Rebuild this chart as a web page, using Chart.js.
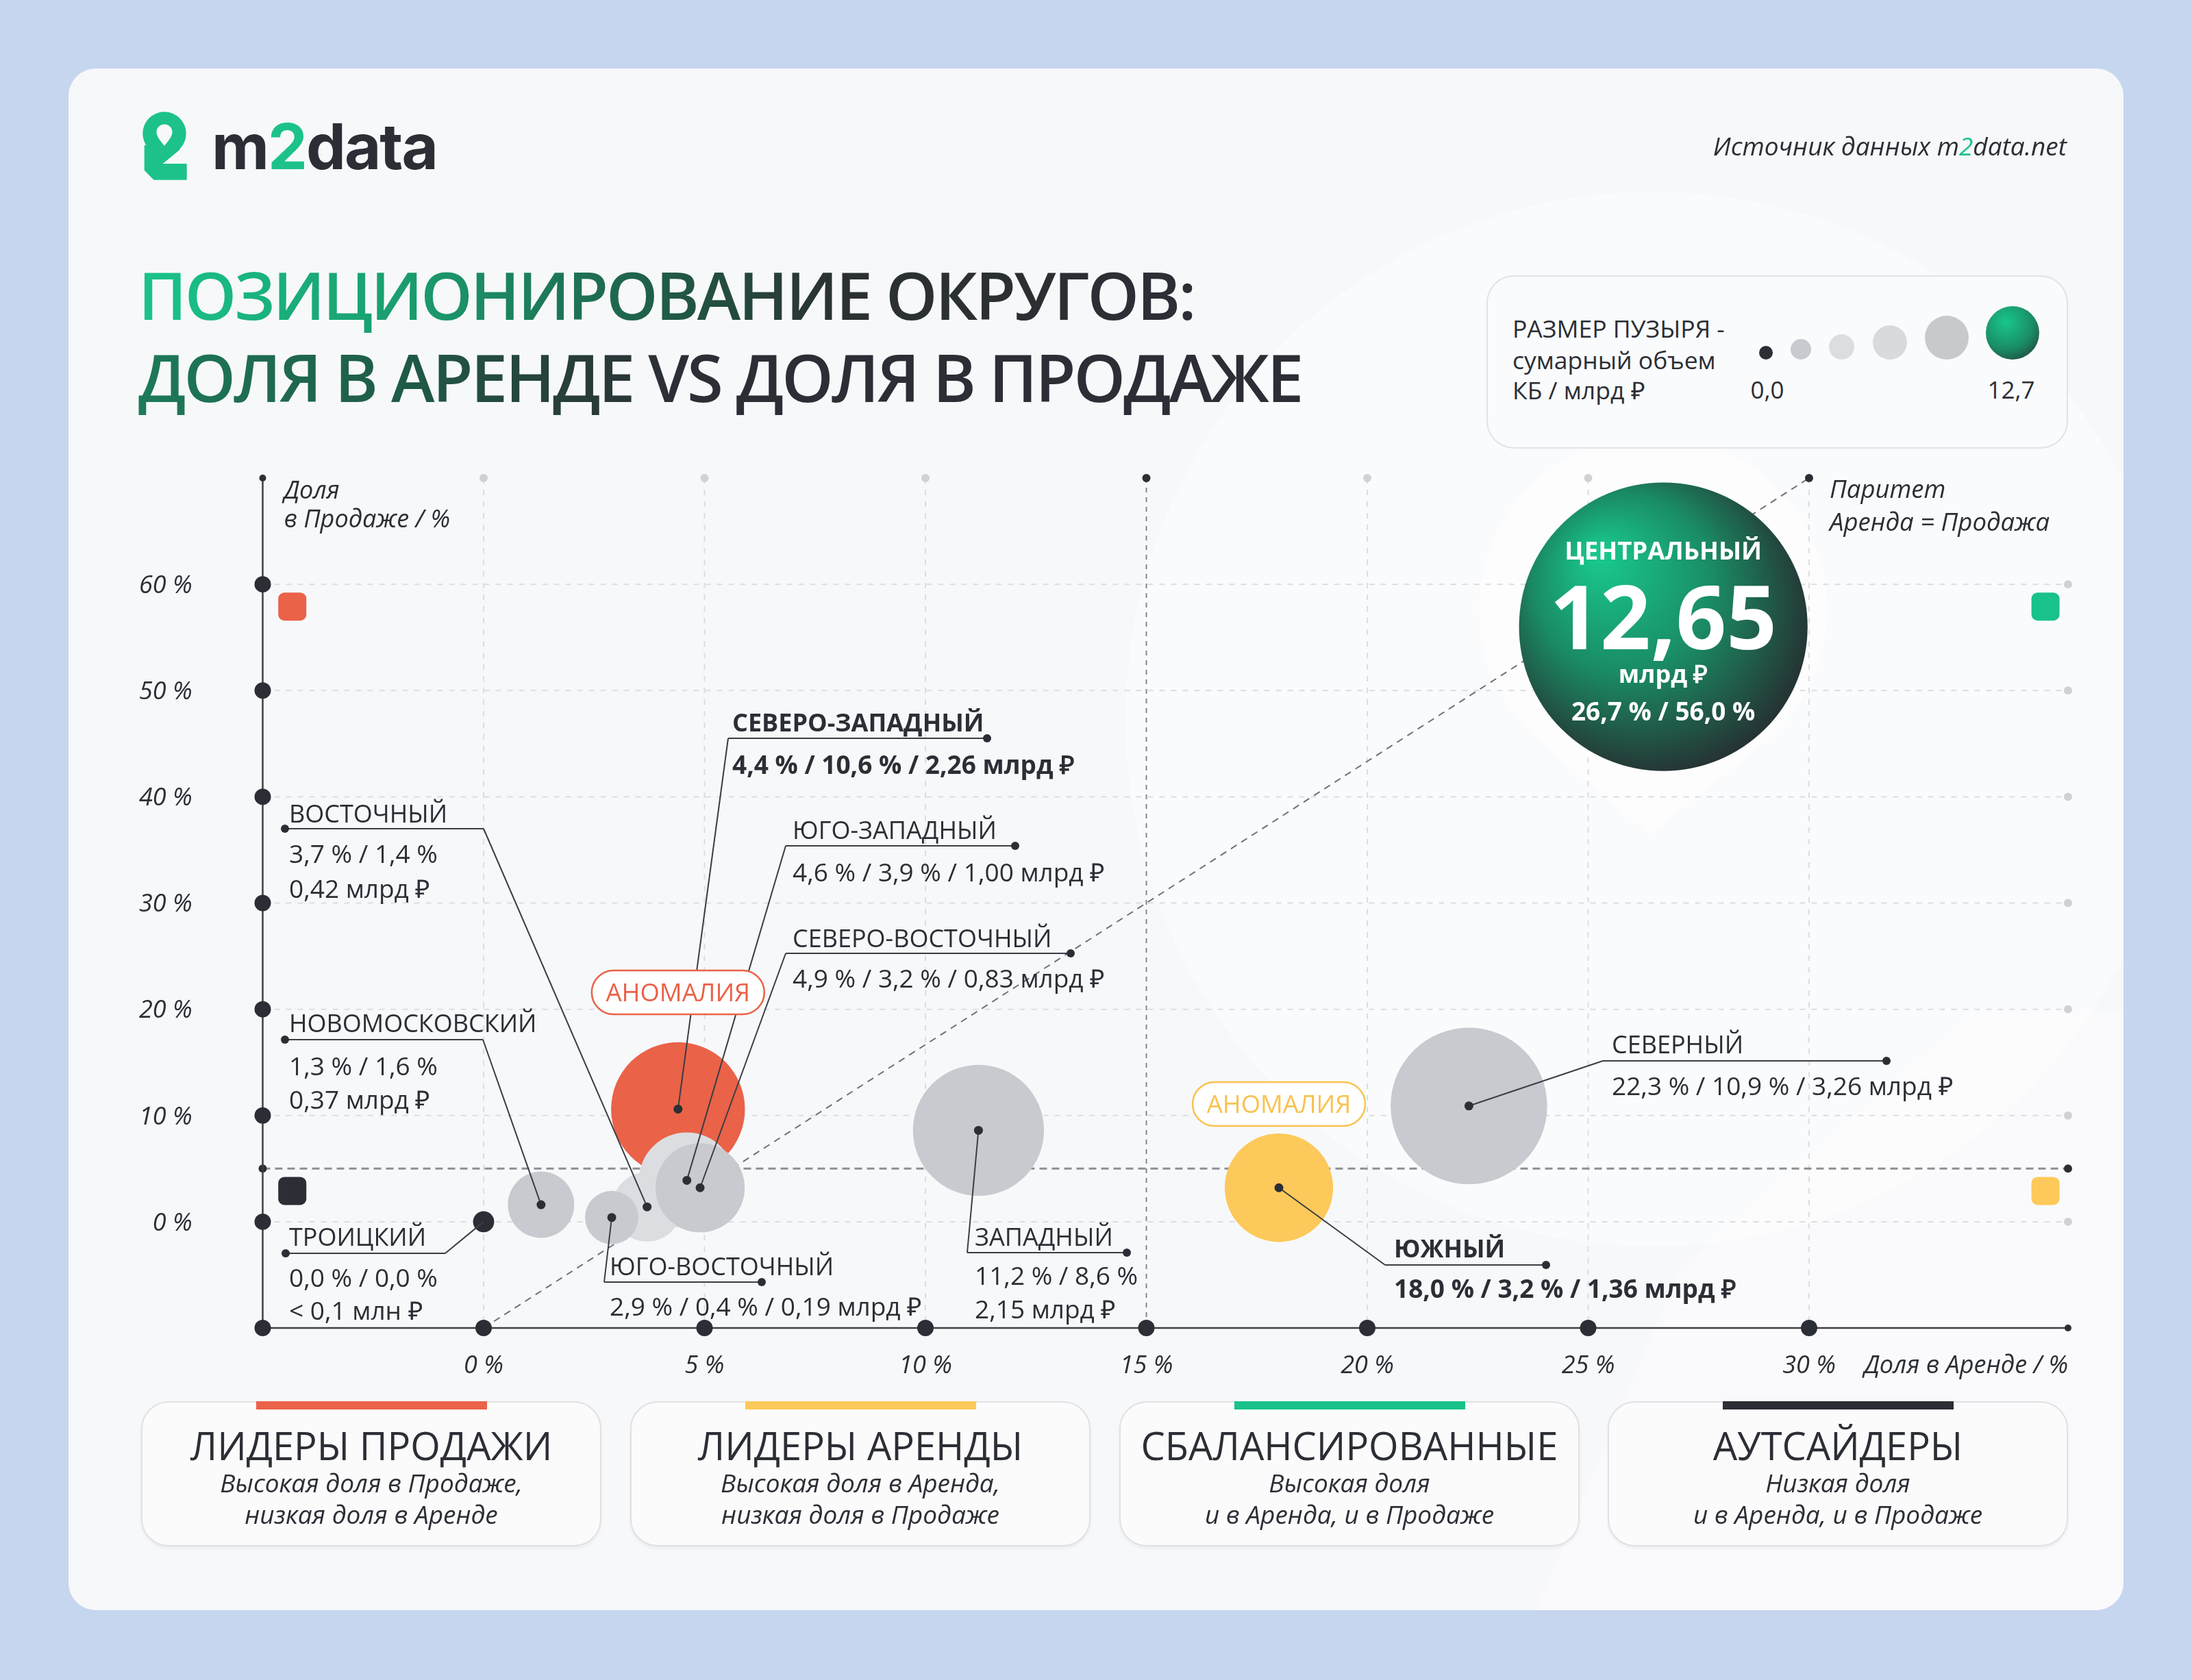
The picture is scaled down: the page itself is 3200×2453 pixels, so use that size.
<!DOCTYPE html>
<html lang="ru">
<head>
<meta charset="utf-8">
<title>Позиционирование округов</title>
<script src="https://cdn.jsdelivr.net/npm/chart.js@4.4.1/dist/chart.umd.min.js"></script>
<style>
  html, body { margin: 0; padding: 0; }
  body {
    width: 3200px; height: 2453px; position: relative; overflow: hidden;
    background: #c6d6ef; font-family: 'Open Sans', sans-serif; color: #2b2e35;
  }
  .abs { position: absolute; white-space: nowrap; }
  .sheet { left: 100px; top: 100px; width: 3000px; height: 2251px; background: #f7f8fa; border-radius: 40px; overflow: hidden; }
  #chart { position: absolute; left: 0; top: 0; }
  .brand { left: 309px; top: 168px; font-family: Inter, 'Open Sans', sans-serif; font-size: 92px; line-height: 92px; font-weight: 700; letter-spacing: -2px; color: #2b2e35; }
  .brand b, .source b { color: #1dc28a; font-weight: inherit; }
  .source { right: 183px; top: 187px; font-size: 37px; line-height: 52px; font-style: italic; color: #2b2e35; }
  .title { left: 202px; font-size: 96px; line-height: 120px; font-weight: 600; letter-spacing: -3px; }
  .title span { -webkit-background-clip: text; background-clip: text; color: transparent; }
  .t1 { top: 370px; }
  .t1 span { background-image: linear-gradient(90deg, #19c48b 0%, #1a9a6c 27%, #215543 52%, #2b3131 66%, #2b2e35 100%); }
  .t2 { top: 490px; }
  .t2 span { background-image: linear-gradient(90deg, #1d7a59 0%, #1f5c48 22%, #27403a 36%, #2b2e35 46%, #2b2e35 100%); }
  .legend { left: 2170px; top: 402px; width: 845px; height: 249px; border: 2px solid #e2e3e7; border-radius: 40px; background: #fafbfc; }
  .lg-text { left: 2208px; font-size: 35.5px; line-height: 46px; color: #2b2e35; }
  .lg-dot { border-radius: 50%; }
  .lg-num { font-size: 35px; line-height: 46px; transform: translateX(-50%); }
  .quad { top: 2046px; width: 668px; height: 208px; border: 2px solid #e0e1e5; border-radius: 40px; background: #fbfbfc; box-shadow: 0 3px 4px rgba(40, 50, 70, 0.06); }
  .quad .bar { position: absolute; left: 166px; top: -2px; width: 337px; height: 12px; }
  .quad .name { position: absolute; left: 0; right: 0; top: 30px; text-align: center; font-size: 56px; line-height: 64px; }
  .quad .note { position: absolute; left: 0; right: 0; top: 94px; text-align: center; font-size: 37px; line-height: 46px; font-style: italic; }
</style>
</head>
<body>
<div class="abs sheet">
  <!-- бледный логотип на фоне -->
  <svg class="abs" style="left:-100px;top:-100px" width="3200" height="2453" viewBox="0 0 3200 2453">
    <circle cx="2413" cy="1050" r="770" fill="#ffffff" fill-opacity="0.42"/>
    <path d="M2408 1219 L2251.5 1086 A254 254 0 1 1 2574.5 1086 Z" fill="#ffffff" fill-opacity="0.6"/>
    <path d="M2880 1480 L3200 1480 L3200 2453 L2200 2453 L2453 1850 Z" fill="#ffffff" fill-opacity="0.35"/>
  </svg>
</div>
<canvas id="chart" width="3200" height="2453"></canvas>

<svg class="abs" style="left:204px;top:160px" width="72" height="106" viewBox="0 0 72 106">
  <circle cx="36" cy="35" r="31.7" fill="#1dc28a"/>
  <path d="M7.7 53 L57.7 58 L31 80 L67.7 80 L67.7 101.7 L21 101.7 L7.7 88.3 Z" fill="#1dc28a" stroke="#1dc28a" stroke-width="2" stroke-linejoin="round"/>
  <path d="M36 53 C31 46, 24.5 40, 24.5 33 A11.5 11.5 0 1 1 47.5 33 C47.5 40, 41 46, 36 53 Z" fill="#f7f8fa"/>
</svg>
<div class="abs brand">m<b>2</b>data</div>
<div class="abs source">Источник данных m<b>2</b>data.net</div>

<div class="abs title t1"><span>ПОЗИЦИОНИРОВАНИЕ ОКРУГОВ:</span></div>
<div class="abs title t2"><span>ДОЛЯ В АРЕНДЕ VS ДОЛЯ В ПРОДАЖЕ</span></div>

<div class="abs legend"></div>
<div class="abs lg-text" style="top:456px">РАЗМЕР ПУЗЫРЯ -</div>
<div class="abs lg-text" style="top:502px">сумарный объем</div>
<div class="abs lg-text" style="top:546px">КБ / млрд ₽</div>
<div class="abs lg-dot" style="left:2568px;top:505px;width:20px;height:20px;background:#2b2e35"></div>
<div class="abs lg-dot" style="left:2614px;top:495px;width:30px;height:30px;background:#c9cacf"></div>
<div class="abs lg-dot" style="left:2670px;top:488px;width:37px;height:37px;background:#dcdde1"></div>
<div class="abs lg-dot" style="left:2734px;top:475px;width:50px;height:50px;background:#d9dadd"></div>
<div class="abs lg-dot" style="left:2810px;top:461px;width:64px;height:64px;background:#c8c9cd"></div>
<div class="abs lg-dot" style="left:2899px;top:447px;width:78px;height:78px;background:radial-gradient(circle at 38% 30%, #19c68c 0%, #1a8b64 55%, #262b2f 100%)"></div>
<div class="abs lg-num" style="left:2580px;top:546px">0,0</div>
<div class="abs lg-num" style="left:2936px;top:546px">12,7</div>

<div class="abs quad" style="left:206px"><div class="bar" style="background:#ea6248"></div>
  <div class="name">ЛИДЕРЫ ПРОДАЖИ</div><div class="note">Высокая доля в Продаже,<br>низкая доля в Аренде</div></div>
<div class="abs quad" style="left:920px"><div class="bar" style="background:#fdc95a"></div>
  <div class="name">ЛИДЕРЫ АРЕНДЫ</div><div class="note">Высокая доля в Аренда,<br>низкая доля в Продаже</div></div>
<div class="abs quad" style="left:1634px"><div class="bar" style="background:#18c28a"></div>
  <div class="name">СБАЛАНСИРОВАННЫЕ</div><div class="note">Высокая доля<br>и в Аренда, и в Продаже</div></div>
<div class="abs quad" style="left:2347px"><div class="bar" style="background:#2b2e35"></div>
  <div class="name">АУТСАЙДЕРЫ</div><div class="note">Низкая доля<br>и в Аренда, и в Продаже</div></div>

<script>
// --- Данные: доля в аренде / доля в продаже / объем КБ ---
const districts = ['ЦЕНТРАЛЬНЫЙ', 'СЕВЕРНЫЙ', 'ЮЖНЫЙ', 'ЗАПАДНЫЙ', 'СЕВЕРО-ЗАПАДНЫЙ', 'ВОСТОЧНЫЙ',
                   'ЮГО-ЗАПАДНЫЙ', 'СЕВЕРО-ВОСТОЧНЫЙ', 'ЮГО-ВОСТОЧНЫЙ', 'НОВОМОСКОВСКИЙ', 'ТРОИЦКИЙ'];
const rentShare = [26.7, 22.3, 18.0, 11.2, 4.4, 3.7, 4.6, 4.9, 2.9, 1.3, 0.0];   // %
const saleShare = [56.0, 10.9, 3.2, 8.6, 10.6, 1.4, 3.9, 3.2, 0.4, 1.6, 0.0];    // %
const volume    = [12.65, 3.26, 1.36, 2.15, 2.26, 0.42, 1.00, 0.83, 0.19, 0.37, 0.00005]; // млрд ₽

const xTicks = [0, 5, 10, 15, 20, 25, 30];
const xTickLabels = ['0 %', '5 %', '10 %', '15 %', '20 %', '25 %', '30 %'];
const yTicks = [0, 10, 20, 30, 40, 50, 60];
const yTickLabels = ['0 %', '10 %', '20 %', '30 %', '40 %', '50 %', '60 %'];

const xMin = -5, xMax = 35.86, yMin = -10, yMax = 70;
const splitRent = 15, splitSale = 5;          // границы квадрантов
const parityFrom = [0, -10], parityTo = [30, 70];

// --- Оформление ---
const INK = '#2b2e35';
const fills = ['gradient', '#c9cacf', '#fdc95a', '#c9cacf', '#ea6248', '#dcdde1',
               '#dcdde1', '#c9cacf', '#c9cacf', '#c9cacf', INK];
const bold = [false, false, true, false, true, false, false, false, false, false, false];
const anomaly = { 4: ['#ea6248', 1449], 2: ['#f9c24f', 1612] };

// расположение подписей (пиксели страницы)
const labelLayout = [
  null,
  { tx: 2353, nameY: 1525, lineY: 1549, x1: 2340, x2: 2754, from: 'x1', rows: [1586] },
  { tx: 2035, nameY: 1823, lineY: 1847, x1: 2022, x2: 2257, from: 'x1', rows: [1882] },
  { tx: 1423, nameY: 1806, lineY: 1829, x1: 1412, x2: 1645, from: 'x1', rows: [1863, 1912] },
  { tx: 1069, nameY: 1055, lineY: 1078, x1: 1063, x2: 1441, from: 'x1', rows: [1117] },
  { tx: 422,  nameY: 1188, lineY: 1210, x1: 416,  x2: 706,  from: 'x2', rows: [1247, 1298] },
  { tx: 1157, nameY: 1212, lineY: 1235, x1: 1147, x2: 1482, from: 'x1', rows: [1274] },
  { tx: 1157, nameY: 1370, lineY: 1392, x1: 1147, x2: 1563, from: 'x1', rows: [1429] },
  { tx: 890,  nameY: 1849, lineY: 1872, x1: 882,  x2: 1112, from: 'x1', rows: [1908] },
  { tx: 422,  nameY: 1494, lineY: 1518, x1: 416,  x2: 705,  from: 'x2', rows: [1557, 1606] },
  { tx: 422,  nameY: 1806, lineY: 1830, x1: 417,  x2: 650,  from: 'x2', rows: [1866, 1914] }
];

const radiusFor = v => 15 + 55 * Math.sqrt(v);
const pct = v => v.toFixed(1).replace('.', ',') + ' %';
const vol = v => v < 0.0001 ? '< 0,1 млн ₽' : v.toFixed(2).replace('.', ',') + ' млрд ₽';

function line(c, x1, y1, x2, y2) { c.beginPath(); c.moveTo(x1, y1); c.lineTo(x2, y2); c.stroke(); }
function dot(c, x, y, r, color) { c.beginPath(); c.arc(x, y, r, 0, Math.PI * 2); c.fillStyle = color; c.fill(); }
function text(c, s, x, y, size, opts = {}) {
  c.font = (opts.italic ? 'italic ' : '') + (opts.weight || 400) + ' ' + size + 'px "Open Sans"';
  c.fillStyle = opts.color || INK;
  c.textAlign = opts.align || 'left';
  c.textBaseline = 'alphabetic';
  c.fillText(s, x, y + size * 0.357);
}
function roundRect(c, x, y, w, h, r) {
  c.beginPath(); c.moveTo(x + r, y); c.arcTo(x + w, y, x + w, y + h, r); c.arcTo(x + w, y + h, x, y + h, r);
  c.arcTo(x, y + h, x, y, r); c.arcTo(x, y, x + w, y, r); c.closePath();
}

// сетка, оси, квадранты
const backdrop = {
  id: 'backdrop',
  beforeDatasetsDraw(chart) {
    const c = chart.ctx, x = chart.scales.x, y = chart.scales.y;
    const L = x.getPixelForValue(xMin), R = x.getPixelForValue(xMax);
    const T = y.getPixelForValue(yMax), B = y.getPixelForValue(yMin);
    c.save();

    c.lineWidth = 2; c.strokeStyle = '#dcdde2'; c.setLineDash([8, 9]);
    yTicks.forEach(v => { const py = y.getPixelForValue(v); line(c, L, py, R, py); });
    xTicks.forEach(v => { if (v !== splitRent) { const px = x.getPixelForValue(v); line(c, px, T, px, B); } });
    c.setLineDash([]);
    yTicks.forEach(v => dot(c, R, y.getPixelForValue(v), 6, '#d0d1d5'));
    xTicks.forEach(v => { if (v !== splitRent && v !== parityTo[0]) dot(c, x.getPixelForValue(v), T, 6, '#d0d1d5'); });

    // границы квадрантов
    const qx = x.getPixelForValue(splitRent), qy = y.getPixelForValue(splitSale);
    c.strokeStyle = '#85878d'; c.lineWidth = 2; c.setLineDash([7, 7]);
    line(c, qx, T, qx, B);
    c.strokeStyle = '#8d8f95'; c.lineWidth = 3; c.setLineDash([11, 7]);
    line(c, L, qy, R, qy);
    c.setLineDash([]);
    dot(c, qx, T, 6, INK); dot(c, R, qy, 6, INK); dot(c, L, qy, 6, INK);

    // паритет
    const p1x = x.getPixelForValue(parityFrom[0]), p1y = y.getPixelForValue(parityFrom[1]);
    const p2x = x.getPixelForValue(parityTo[0]), p2y = y.getPixelForValue(parityTo[1]);
    c.strokeStyle = '#6f7178'; c.lineWidth = 2; c.setLineDash([10, 8]);
    line(c, p1x, p1y, p2x, p2y);
    c.setLineDash([]);
    dot(c, p2x, p2y, 6, INK);
    text(c, 'Паритет', p2x + 30, 714, 36.5, { italic: true });
    text(c, 'Аренда = Продажа', p2x + 30, 762, 36.5, { italic: true });

    // оси
    c.strokeStyle = '#3d4047'; c.lineWidth = 2.5;
    line(c, L, T, L, B); line(c, L, B, R, B);
    dot(c, L, T, 5, INK); dot(c, R, B, 5, INK); dot(c, L, B, 12, INK);
    yTicks.forEach((v, i) => {
      const py = y.getPixelForValue(v);
      dot(c, L, py, 12, INK);
      text(c, yTickLabels[i], L - 103, py, 36, { italic: true, align: 'right' });
    });
    xTicks.forEach((v, i) => {
      const px = x.getPixelForValue(v);
      dot(c, px, B, 12, INK);
      text(c, xTickLabels[i], px, B + 53, 36, { italic: true, align: 'center' });
    });
    text(c, 'Доля в Аренде / %', R, B + 53, 36, { italic: true, align: 'right' });
    text(c, 'Доля', L + 31, 715, 36, { italic: true });
    text(c, 'в Продаже / %', L + 31, 757, 36, { italic: true });

    // маркеры квадрантов
    const corner = [[-4.33, 57.9, '#ea6248'], [35.35, 57.9, '#18c28a'], [-4.33, 2.9, INK], [35.35, 2.9, '#fdc95a']];
    corner.forEach(([cx, cy, col]) => {
      const px = x.getPixelForValue(cx), py = y.getPixelForValue(cy);
      roundRect(c, px - 20.5, py - 20.5, 41, 41, 9); c.fillStyle = col; c.fill();
    });
    c.restore();
  },

  // подписи и выноски
  afterDatasetsDraw(chart) {
    const c = chart.ctx, x = chart.scales.x, y = chart.scales.y;
    c.save();
    districts.forEach((name, i) => {
      const px = x.getPixelForValue(rentShare[i]), py = y.getPixelForValue(saleShare[i]);
      const lay = labelLayout[i];
      if (!lay) return;
      const w = bold[i] ? 700 : 400;
      c.strokeStyle = '#3a3d44'; c.lineWidth = 2;
      const ax = lay.from === 'x1' ? lay.x1 : lay.x2;
      const ex = lay.from === 'x1' ? lay.x2 : lay.x1;
      line(c, lay.x1, lay.lineY, lay.x2, lay.lineY);
      line(c, ax, lay.lineY, px, py);
      dot(c, ex, lay.lineY, 6, INK);
      if (i !== districts.length - 1) dot(c, px, py, 6.5, INK);
      text(c, name, lay.tx, lay.nameY, 36, { weight: w });
      if (lay.rows.length === 1) {
        text(c, pct(rentShare[i]) + ' / ' + pct(saleShare[i]) + ' / ' + vol(volume[i]), lay.tx, lay.rows[0], 37, { weight: w });
      } else {
        text(c, pct(rentShare[i]) + ' / ' + pct(saleShare[i]), lay.tx, lay.rows[0], 37, { weight: w });
        text(c, vol(volume[i]), lay.tx, lay.rows[1], 37, { weight: w });
      }
    });

    // пометки «АНОМАЛИЯ»
    Object.keys(anomaly).forEach(k => {
      const [col, cy] = anomaly[k];
      const cx = x.getPixelForValue(rentShare[k]);
      roundRect(c, cx - 126, cy - 32, 252, 64, 32);
      c.fillStyle = '#ffffff'; c.fill();
      c.strokeStyle = col; c.lineWidth = 2.5; c.stroke();
      text(c, 'АНОМАЛИЯ', cx, cy, 36.5, { color: col, align: 'center' });
    });

    // ЦЕНТРАЛЬНЫЙ — подпись внутри пузыря
    const cx = x.getPixelForValue(rentShare[0]), cy = y.getPixelForValue(saleShare[0]);
    text(c, districts[0], cx, cy - 111, 36.5, { weight: 700, color: '#ffffff', align: 'center' });
    text(c, volume[0].toFixed(2).replace('.', ','), cx, cy - 13, 129, { weight: 700, color: '#ffffff', align: 'center' });
    text(c, 'млрд ₽', cx, cy + 69, 36, { weight: 700, color: '#ffffff', align: 'center' });
    text(c, pct(rentShare[0]) + ' / ' + pct(saleShare[0]), cx, cy + 124, 37, { weight: 700, color: '#ffffff', align: 'center' });
    c.restore();
  }
};

function bubbleFill(ctx) {
  const i = ctx.dataIndex;
  if (fills[i] !== 'gradient') return fills[i];
  const chart = ctx.chart;
  if (!chart.chartArea || !chart.scales.x) return '#1a8b64';
  const cx = chart.scales.x.getPixelForValue(rentShare[i]);
  const cy = chart.scales.y.getPixelForValue(saleShare[i]);
  const r = radiusFor(volume[i]);
  const g = chart.ctx.createRadialGradient(cx - r * 0.45, cy - r * 0.5, r * 0.05, cx - r * 0.1, cy - r * 0.1, r * 1.2);
  g.addColorStop(0, '#19c68c');
  g.addColorStop(0.5, '#1a8b64');
  g.addColorStop(1, '#262b2f');
  return g;
}

const points = districts.map((d, i) => ({ x: rentShare[i], y: saleShare[i], r: radiusFor(volume[i]) }));

const chart = new Chart(document.getElementById('chart'), {
  type: 'bubble',
  data: {
    datasets: [{
      data: points,
      backgroundColor: bubbleFill,
      borderWidth: 0,
      hoverRadius: 0,
      clip: false
    }]
  },
  options: {
    responsive: false,
    animation: false,
    devicePixelRatio: 1,
    events: [],
    layout: { autoPadding: false, padding: { left: 383.5, right: 181, top: 698, bottom: 514 } },
    plugins: { legend: { display: false }, tooltip: { enabled: false } },
    scales: {
      x: { type: 'linear', min: xMin, max: xMax, display: false },
      y: { type: 'linear', min: yMin, max: yMax, display: false }
    }
  },
  plugins: [backdrop]
});

document.fonts.ready.then(() => chart.update());
</script>
</body>
</html>
